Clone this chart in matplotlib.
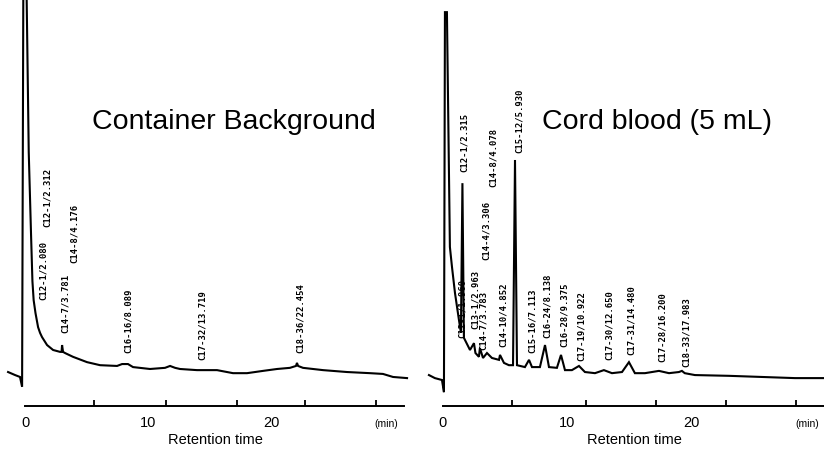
import matplotlib.pyplot as plt

plt.rcParams["font.family"] = ["Liberation Sans", "DejaVu Sans"]

# Retention time (min) and detector response (% of full scale)
BG_TIME = [-1.38, -0.81, -0.41, -0.24, -0.14, 0.12, 0.30, 0.49, 0.60, 0.70,
           0.85, 1.06, 1.22, 1.38, 1.79, 2.28, 2.85, 2.97, 3.01, 3.09,
           3.25, 3.90, 5.04, 6.10, 7.48, 7.89, 8.37, 8.78, 10.16, 11.38,
           11.79, 12.20, 12.60, 13.98, 15.61, 16.91, 18.05, 19.35, 20.49, 21.54,
           22.03, 22.11, 22.20, 22.60, 24.23, 26.18, 28.05, 29.10, 29.92, 31.06]
BG_SIGNAL = [2.1, 1.3, 0.8, -1.8, 103, 103, 60.0, 38.0, 26.0, 21.0,
             17.6, 13.9, 12.4, 11.3, 9.2, 7.9, 7.4, 7.4, 9.2, 7.4,
             7.1, 6.1, 4.7, 3.9, 3.7, 4.2, 4.2, 3.4, 2.9, 3.2,
             3.7, 3.2, 2.9, 2.6, 2.6, 1.8, 1.8, 2.4, 2.9, 3.2,
             3.7, 4.5, 3.7, 3.2, 2.6, 2.1, 1.8, 1.6, 0.8, 0.5]

CB_TIME = [-1.13, -0.65, -0.08, 0.08, 0.16, 0.32, 0.56, 0.73, 0.97, 1.29,
           1.45, 1.57, 1.69, 2.18, 2.50, 2.62, 2.90, 2.98, 3.23, 3.55,
           3.95, 4.52, 4.60, 4.92, 5.32, 5.65, 5.81, 5.97, 6.61, 6.94,
           7.18, 7.82, 8.23, 8.55, 9.19, 9.52, 9.84, 10.40, 10.97, 11.45,
           12.26, 12.98, 13.63, 14.44, 15.00, 15.48, 16.29, 17.42, 18.23, 19.03,
           19.27, 19.50, 20.32, 23.06, 25.73, 28.39, 30.73]
CB_SIGNAL = [1.3, 0.5, 0.0, -3.2, 96.8, 96.8, 35.0, 29.7, 22.9, 15.8,
             12.4, 51.8, 11.1, 7.9, 9.7, 7.1, 6.1, 8.4, 5.8, 7.1,
             5.8, 5.3, 6.6, 4.5, 3.9, 3.9, 57.9, 3.9, 3.4, 5.3,
             3.4, 3.4, 9.2, 3.4, 3.2, 6.6, 2.6, 2.6, 3.7, 2.1,
             1.8, 2.6, 1.8, 2.1, 4.7, 1.8, 1.8, 2.4, 1.8, 2.1,
             2.4, 1.8, 1.3, 1.1, 0.8, 0.5, 0.5]

# Peak annotations: position (min), foot of the label (% full scale), text
BG_PEAK_TIME = [1.46, 1.79, 3.25, 3.98, 8.37, 14.39, 22.36]
BG_LABEL_Y = [21.1, 40.3, 12.4, 30.8, 7.1, 5.3, 7.1]
BG_PEAK_LABELS = ["C12-1/2.080", "C12-1/2.312", "C14-7/3.781", "C14-8/4.176",
                  "C16-16/8.089", "C17-32/13.719", "C18-36/22.454"]

CB_PEAK_TIME = [1.69, 1.55, 2.62, 3.30, 3.47, 4.03, 4.84, 6.13, 7.18, 8.39,
                9.76, 11.2, 13.39, 15.16, 17.66, 19.6]
CB_LABEL_Y = [54.7, 11.0, 13.5, 7.9, 31.6, 50.8, 8.7, 59.7, 7.1, 11.1,
              8.7, 5.0, 5.3, 6.6, 4.7, 3.4]
CB_PEAK_LABELS = ["C12-1/2.315", "C12-1/1.960", "C13-1/2.963", "C14-7/3.783",
                  "C14-4/3.306", "C14-8/4.078", "C14-10/4.852", "C15-12/5.930",
                  "C15-16/7.113", "C16-24/8.138", "C16-28/9.375", "C17-19/10.922",
                  "C17-30/12.650", "C17-31/14.480", "C17-28/16.200", "C18-33/17.983"]

TICK_MARKS = [0, 5.6, 11.5, 17.2, 22.8, 28.5]
TICK_LABELS = [0, 10, 20]

Y_RANGE = (-6.84, 100)


def draw_panel(ax, time, signal, peak_t, peak_y, labels, title, title_x, xlim, axis_end):
    ax.plot(time, signal, color="black", linewidth=1.5, solid_joinstyle="miter")
    for t, y, text in zip(peak_t, peak_y, labels):
        ax.text(t, y, text, rotation=90, ha="center", va="bottom",
                family="DejaVu Sans Mono", fontweight="bold", fontsize=6.4)
    ax.text(title_x, 66, title, fontsize=20.5, ha="left", va="baseline")
    ax.set_xlim(*xlim)
    ax.set_ylim(*Y_RANGE)
    for side in ("top", "right", "left"):
        ax.spines[side].set_visible(False)
    ax.spines["bottom"].set_bounds(0, axis_end)
    ax.spines["bottom"].set_linewidth(1.4)
    ax.set_yticks([])
    ax.set_xticks(TICK_LABELS)
    ax.set_xticks(TICK_MARKS, minor=True)
    ax.tick_params(axis="x", which="major", length=0, pad=7, labelsize=10.5)
    ax.tick_params(axis="x", which="minor", direction="in", length=4.5, width=1.3)
    ax.text(29.35, -11.6, "(min)", fontsize=7.5, ha="center", va="center", clip_on=False)
    ax.text(15.45, -15.9, "Retention time", fontsize=10.5, ha="center", va="center",
            clip_on=False)


fig = plt.figure(figsize=(8.24, 4.63), dpi=100)
bottom = (463 - 406) / 463
height = 406 / 463
ax_bg = fig.add_axes([5 / 824, bottom, 405 / 824, height])
ax_cb = fig.add_axes([422 / 824, bottom, 402 / 824, height])
for ax in (ax_bg, ax_cb):
    ax.patch.set_alpha(0)

draw_panel(ax_bg, BG_TIME, BG_SIGNAL, BG_PEAK_TIME, BG_LABEL_Y, BG_PEAK_LABELS,
           "Container Background", 5.45, (-1.63, 31.3), 30.8)
draw_panel(ax_cb, CB_TIME, CB_SIGNAL, CB_PEAK_TIME, CB_LABEL_Y, CB_PEAK_LABELS,
           "Cord blood (5 mL)", 7.98, (-1.69, 30.73), 30.73)

fig.savefig("out.png", dpi=100)
